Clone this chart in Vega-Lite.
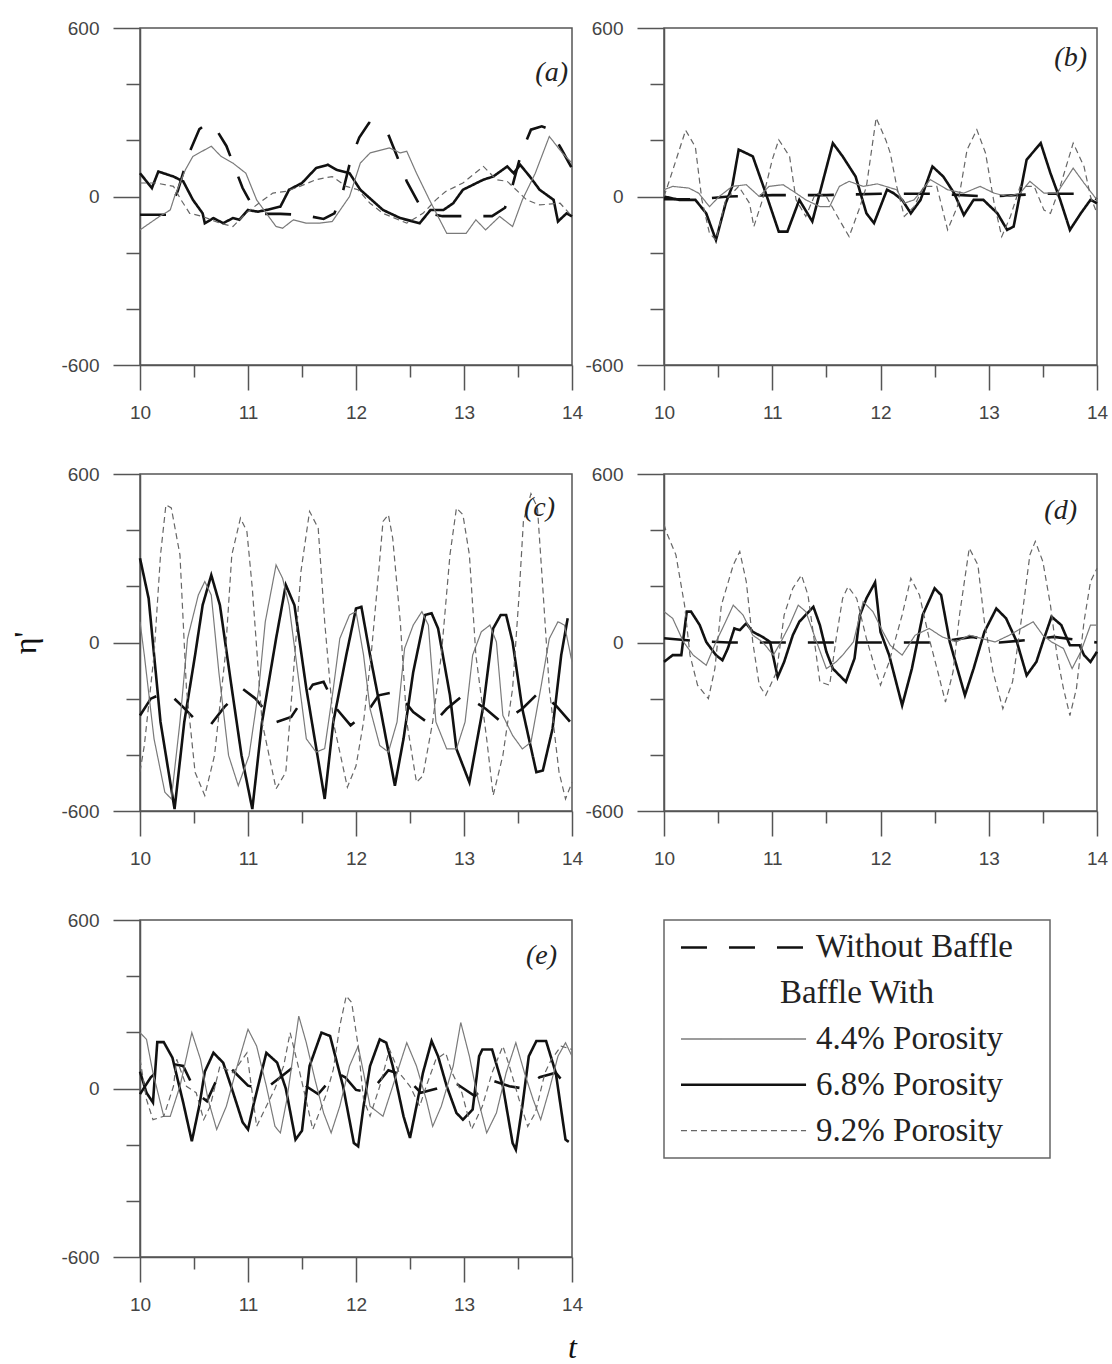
{
  "$schema": "https://vega.github.io/schema/vega-lite/v6.json",
  "padding": {"left": 9, "top": 18, "right": 5, "bottom": 5},
  "background": "white",
  "data": {"values": [
{"p":"a","s":"WB","t":10,"v":-65},{"p":"a","s":"WB","t":10.25,"v":-65},{"p":"a","s":"WB","t":10.35,"v":20},{"p":"a","s":"WB","t":10.45,"v":150},{"p":"a","s":"WB","t":10.55,"v":240},{"p":"a","s":"WB","t":10.63,"v":262},{"p":"a","s":"WB","t":10.72,"v":230},{"p":"a","s":"WB","t":10.8,"v":180},{"p":"a","s":"WB","t":10.88,"v":100},{"p":"a","s":"WB","t":10.95,"v":30},{"p":"a","s":"WB","t":11.05,"v":-40},{"p":"a","s":"WB","t":11.15,"v":-62},{"p":"a","s":"WB","t":11.3,"v":-62},{"p":"a","s":"WB","t":11.5,"v":-65},{"p":"a","s":"WB","t":11.7,"v":-80},{"p":"a","s":"WB","t":11.8,"v":-60},{"p":"a","s":"WB","t":11.88,"v":20},{"p":"a","s":"WB","t":11.95,"v":130},{"p":"a","s":"WB","t":12.03,"v":210},{"p":"a","s":"WB","t":12.12,"v":262},{"p":"a","s":"WB","t":12.22,"v":250},{"p":"a","s":"WB","t":12.3,"v":220},{"p":"a","s":"WB","t":12.38,"v":143},{"p":"a","s":"WB","t":12.47,"v":54},{"p":"a","s":"WB","t":12.58,"v":-24},{"p":"a","s":"WB","t":12.68,"v":-60},{"p":"a","s":"WB","t":12.8,"v":-70},{"p":"a","s":"WB","t":13,"v":-70},{"p":"a","s":"WB","t":13.26,"v":-70},{"p":"a","s":"WB","t":13.38,"v":-40},{"p":"a","s":"WB","t":13.45,"v":40},{"p":"a","s":"WB","t":13.53,"v":155},{"p":"a","s":"WB","t":13.62,"v":238},{"p":"a","s":"WB","t":13.72,"v":250},{"p":"a","s":"WB","t":13.8,"v":238},{"p":"a","s":"WB","t":13.9,"v":170},{"p":"a","s":"WB","t":14,"v":100},
{"p":"a","s":"6.8","t":10,"v":83},{"p":"a","s":"6.8","t":10.11,"v":30},{"p":"a","s":"6.8","t":10.17,"v":89},{"p":"a","s":"6.8","t":10.31,"v":71},{"p":"a","s":"6.8","t":10.4,"v":54},{"p":"a","s":"6.8","t":10.49,"v":-12},{"p":"a","s":"6.8","t":10.58,"v":-60},{"p":"a","s":"6.8","t":10.6,"v":-95},{"p":"a","s":"6.8","t":10.68,"v":-77},{"p":"a","s":"6.8","t":10.77,"v":-95},{"p":"a","s":"6.8","t":10.86,"v":-77},{"p":"a","s":"6.8","t":10.92,"v":-83},{"p":"a","s":"6.8","t":11,"v":-48},{"p":"a","s":"6.8","t":11.09,"v":-54},{"p":"a","s":"6.8","t":11.17,"v":-48},{"p":"a","s":"6.8","t":11.3,"v":-36},{"p":"a","s":"6.8","t":11.38,"v":24},{"p":"a","s":"6.8","t":11.5,"v":48},{"p":"a","s":"6.8","t":11.63,"v":101},{"p":"a","s":"6.8","t":11.74,"v":113},{"p":"a","s":"6.8","t":11.82,"v":95},{"p":"a","s":"6.8","t":11.94,"v":83},{"p":"a","s":"6.8","t":12.04,"v":24},{"p":"a","s":"6.8","t":12.25,"v":-48},{"p":"a","s":"6.8","t":12.41,"v":-77},{"p":"a","s":"6.8","t":12.59,"v":-95},{"p":"a","s":"6.8","t":12.69,"v":-48},{"p":"a","s":"6.8","t":12.81,"v":-48},{"p":"a","s":"6.8","t":12.9,"v":-24},{"p":"a","s":"6.8","t":12.99,"v":24},{"p":"a","s":"6.8","t":13.18,"v":60},{"p":"a","s":"6.8","t":13.27,"v":71},{"p":"a","s":"6.8","t":13.4,"v":107},{"p":"a","s":"6.8","t":13.46,"v":83},{"p":"a","s":"6.8","t":13.52,"v":113},{"p":"a","s":"6.8","t":13.61,"v":71},{"p":"a","s":"6.8","t":13.7,"v":24},{"p":"a","s":"6.8","t":13.83,"v":-12},{"p":"a","s":"6.8","t":13.87,"v":-89},{"p":"a","s":"6.8","t":13.95,"v":-60},{"p":"a","s":"6.8","t":14,"v":-71},
{"p":"a","s":"4.4","t":10,"v":-119},{"p":"a","s":"4.4","t":10.18,"v":-71},{"p":"a","s":"4.4","t":10.28,"v":-48},{"p":"a","s":"4.4","t":10.32,"v":0},{"p":"a","s":"4.4","t":10.42,"v":95},{"p":"a","s":"4.4","t":10.49,"v":143},{"p":"a","s":"4.4","t":10.66,"v":179},{"p":"a","s":"4.4","t":10.75,"v":143},{"p":"a","s":"4.4","t":10.86,"v":119},{"p":"a","s":"4.4","t":10.98,"v":83},{"p":"a","s":"4.4","t":11.08,"v":-12},{"p":"a","s":"4.4","t":11.17,"v":-60},{"p":"a","s":"4.4","t":11.26,"v":-107},{"p":"a","s":"4.4","t":11.32,"v":-113},{"p":"a","s":"4.4","t":11.42,"v":-83},{"p":"a","s":"4.4","t":11.54,"v":-95},{"p":"a","s":"4.4","t":11.66,"v":-95},{"p":"a","s":"4.4","t":11.78,"v":-89},{"p":"a","s":"4.4","t":11.94,"v":0},{"p":"a","s":"4.4","t":12.04,"v":119},{"p":"a","s":"4.4","t":12.13,"v":155},{"p":"a","s":"4.4","t":12.31,"v":173},{"p":"a","s":"4.4","t":12.41,"v":155},{"p":"a","s":"4.4","t":12.47,"v":161},{"p":"a","s":"4.4","t":12.56,"v":83},{"p":"a","s":"4.4","t":12.68,"v":-12},{"p":"a","s":"4.4","t":12.84,"v":-131},{"p":"a","s":"4.4","t":13.02,"v":-131},{"p":"a","s":"4.4","t":13.11,"v":-83},{"p":"a","s":"4.4","t":13.2,"v":-119},{"p":"a","s":"4.4","t":13.33,"v":-71},{"p":"a","s":"4.4","t":13.45,"v":-107},{"p":"a","s":"4.4","t":13.54,"v":-12},{"p":"a","s":"4.4","t":13.66,"v":83},{"p":"a","s":"4.4","t":13.79,"v":214},{"p":"a","s":"4.4","t":13.91,"v":155},{"p":"a","s":"4.4","t":14,"v":119},
{"p":"a","s":"9.2","t":10,"v":48},{"p":"a","s":"9.2","t":10.15,"v":48},{"p":"a","s":"9.2","t":10.31,"v":36},{"p":"a","s":"9.2","t":10.38,"v":-12},{"p":"a","s":"9.2","t":10.46,"v":-60},{"p":"a","s":"9.2","t":10.58,"v":-71},{"p":"a","s":"9.2","t":10.74,"v":-95},{"p":"a","s":"9.2","t":10.86,"v":-107},{"p":"a","s":"9.2","t":10.98,"v":-60},{"p":"a","s":"9.2","t":11.1,"v":-24},{"p":"a","s":"9.2","t":11.23,"v":12},{"p":"a","s":"9.2","t":11.35,"v":18},{"p":"a","s":"9.2","t":11.48,"v":36},{"p":"a","s":"9.2","t":11.63,"v":60},{"p":"a","s":"9.2","t":11.78,"v":71},{"p":"a","s":"9.2","t":11.91,"v":36},{"p":"a","s":"9.2","t":12.02,"v":24},{"p":"a","s":"9.2","t":12.13,"v":-24},{"p":"a","s":"9.2","t":12.25,"v":-60},{"p":"a","s":"9.2","t":12.47,"v":-95},{"p":"a","s":"9.2","t":12.62,"v":-60},{"p":"a","s":"9.2","t":12.74,"v":-12},{"p":"a","s":"9.2","t":12.83,"v":18},{"p":"a","s":"9.2","t":12.99,"v":48},{"p":"a","s":"9.2","t":13.18,"v":107},{"p":"a","s":"9.2","t":13.3,"v":60},{"p":"a","s":"9.2","t":13.4,"v":54},{"p":"a","s":"9.2","t":13.58,"v":-12},{"p":"a","s":"9.2","t":13.7,"v":-30},{"p":"a","s":"9.2","t":13.89,"v":-24},{"p":"a","s":"9.2","t":14,"v":-71},
{"p":"b","s":"WB","t":10,"v":-10},{"p":"b","s":"WB","t":10.3,"v":-10},{"p":"b","s":"WB","t":10.6,"v":0},{"p":"b","s":"WB","t":11,"v":5},{"p":"b","s":"WB","t":11.5,"v":5},{"p":"b","s":"WB","t":12,"v":10},{"p":"b","s":"WB","t":12.5,"v":10},{"p":"b","s":"WB","t":13,"v":0},{"p":"b","s":"WB","t":13.5,"v":10},{"p":"b","s":"WB","t":13.8,"v":10},{"p":"b","s":"WB","t":14,"v":-10},
{"p":"b","s":"6.8","t":10,"v":0},{"p":"b","s":"6.8","t":10.14,"v":-12},{"p":"b","s":"6.8","t":10.29,"v":-12},{"p":"b","s":"6.8","t":10.39,"v":-60},{"p":"b","s":"6.8","t":10.48,"v":-155},{"p":"b","s":"6.8","t":10.57,"v":-24},{"p":"b","s":"6.8","t":10.63,"v":36},{"p":"b","s":"6.8","t":10.69,"v":167},{"p":"b","s":"6.8","t":10.82,"v":143},{"p":"b","s":"6.8","t":10.94,"v":12},{"p":"b","s":"6.8","t":11.06,"v":-125},{"p":"b","s":"6.8","t":11.14,"v":-125},{"p":"b","s":"6.8","t":11.25,"v":-12},{"p":"b","s":"6.8","t":11.37,"v":-89},{"p":"b","s":"6.8","t":11.56,"v":190},{"p":"b","s":"6.8","t":11.65,"v":143},{"p":"b","s":"6.8","t":11.77,"v":71},{"p":"b","s":"6.8","t":11.87,"v":-60},{"p":"b","s":"6.8","t":11.94,"v":-95},{"p":"b","s":"6.8","t":12.06,"v":24},{"p":"b","s":"6.8","t":12.12,"v":12},{"p":"b","s":"6.8","t":12.2,"v":-12},{"p":"b","s":"6.8","t":12.28,"v":-60},{"p":"b","s":"6.8","t":12.37,"v":-12},{"p":"b","s":"6.8","t":12.48,"v":107},{"p":"b","s":"6.8","t":12.58,"v":71},{"p":"b","s":"6.8","t":12.68,"v":12},{"p":"b","s":"6.8","t":12.77,"v":-66},{"p":"b","s":"6.8","t":12.86,"v":-12},{"p":"b","s":"6.8","t":12.95,"v":-12},{"p":"b","s":"6.8","t":13.08,"v":-60},{"p":"b","s":"6.8","t":13.17,"v":-119},{"p":"b","s":"6.8","t":13.23,"v":-107},{"p":"b","s":"6.8","t":13.35,"v":131},{"p":"b","s":"6.8","t":13.48,"v":190},{"p":"b","s":"6.8","t":13.57,"v":83},{"p":"b","s":"6.8","t":13.66,"v":-12},{"p":"b","s":"6.8","t":13.75,"v":-119},{"p":"b","s":"6.8","t":13.85,"v":-60},{"p":"b","s":"6.8","t":13.94,"v":-12},{"p":"b","s":"6.8","t":14,"v":-24},
{"p":"b","s":"4.4","t":10,"v":24},{"p":"b","s":"4.4","t":10.08,"v":36},{"p":"b","s":"4.4","t":10.23,"v":30},{"p":"b","s":"4.4","t":10.32,"v":12},{"p":"b","s":"4.4","t":10.42,"v":-36},{"p":"b","s":"4.4","t":10.51,"v":0},{"p":"b","s":"4.4","t":10.63,"v":36},{"p":"b","s":"4.4","t":10.76,"v":42},{"p":"b","s":"4.4","t":10.88,"v":0},{"p":"b","s":"4.4","t":10.97,"v":36},{"p":"b","s":"4.4","t":11.1,"v":42},{"p":"b","s":"4.4","t":11.22,"v":12},{"p":"b","s":"4.4","t":11.31,"v":-12},{"p":"b","s":"4.4","t":11.44,"v":-36},{"p":"b","s":"4.4","t":11.53,"v":-36},{"p":"b","s":"4.4","t":11.62,"v":36},{"p":"b","s":"4.4","t":11.71,"v":54},{"p":"b","s":"4.4","t":11.84,"v":36},{"p":"b","s":"4.4","t":11.97,"v":45},{"p":"b","s":"4.4","t":12.15,"v":24},{"p":"b","s":"4.4","t":12.22,"v":-24},{"p":"b","s":"4.4","t":12.31,"v":-12},{"p":"b","s":"4.4","t":12.46,"v":60},{"p":"b","s":"4.4","t":12.62,"v":24},{"p":"b","s":"4.4","t":12.77,"v":12},{"p":"b","s":"4.4","t":12.92,"v":36},{"p":"b","s":"4.4","t":13.05,"v":12},{"p":"b","s":"4.4","t":13.17,"v":0},{"p":"b","s":"4.4","t":13.29,"v":12},{"p":"b","s":"4.4","t":13.38,"v":54},{"p":"b","s":"4.4","t":13.51,"v":12},{"p":"b","s":"4.4","t":13.63,"v":12},{"p":"b","s":"4.4","t":13.78,"v":101},{"p":"b","s":"4.4","t":13.88,"v":48},{"p":"b","s":"4.4","t":14,"v":-12},
{"p":"b","s":"9.2","t":10,"v":0},{"p":"b","s":"9.2","t":10.05,"v":57},{"p":"b","s":"9.2","t":10.2,"v":236},{"p":"b","s":"9.2","t":10.29,"v":176},{"p":"b","s":"9.2","t":10.35,"v":-12},{"p":"b","s":"9.2","t":10.42,"v":-131},{"p":"b","s":"9.2","t":10.48,"v":-155},{"p":"b","s":"9.2","t":10.57,"v":-12},{"p":"b","s":"9.2","t":10.69,"v":36},{"p":"b","s":"9.2","t":10.79,"v":-24},{"p":"b","s":"9.2","t":10.83,"v":-107},{"p":"b","s":"9.2","t":10.91,"v":-12},{"p":"b","s":"9.2","t":11,"v":131},{"p":"b","s":"9.2","t":11.06,"v":202},{"p":"b","s":"9.2","t":11.16,"v":143},{"p":"b","s":"9.2","t":11.22,"v":-12},{"p":"b","s":"9.2","t":11.31,"v":-71},{"p":"b","s":"9.2","t":11.4,"v":12},{"p":"b","s":"9.2","t":11.5,"v":0},{"p":"b","s":"9.2","t":11.62,"v":-83},{"p":"b","s":"9.2","t":11.71,"v":-143},{"p":"b","s":"9.2","t":11.8,"v":-48},{"p":"b","s":"9.2","t":11.87,"v":36},{"p":"b","s":"9.2","t":11.96,"v":280},{"p":"b","s":"9.2","t":12.05,"v":200},{"p":"b","s":"9.2","t":12.09,"v":155},{"p":"b","s":"9.2","t":12.15,"v":36},{"p":"b","s":"9.2","t":12.22,"v":-71},{"p":"b","s":"9.2","t":12.31,"v":-36},{"p":"b","s":"9.2","t":12.4,"v":36},{"p":"b","s":"9.2","t":12.52,"v":36},{"p":"b","s":"9.2","t":12.62,"v":-119},{"p":"b","s":"9.2","t":12.71,"v":-36},{"p":"b","s":"9.2","t":12.8,"v":167},{"p":"b","s":"9.2","t":12.89,"v":238},{"p":"b","s":"9.2","t":12.97,"v":155},{"p":"b","s":"9.2","t":13.05,"v":-24},{"p":"b","s":"9.2","t":13.12,"v":-143},{"p":"b","s":"9.2","t":13.2,"v":-71},{"p":"b","s":"9.2","t":13.29,"v":36},{"p":"b","s":"9.2","t":13.42,"v":36},{"p":"b","s":"9.2","t":13.51,"v":-48},{"p":"b","s":"9.2","t":13.57,"v":-60},{"p":"b","s":"9.2","t":13.66,"v":36},{"p":"b","s":"9.2","t":13.78,"v":190},{"p":"b","s":"9.2","t":13.88,"v":107},{"p":"b","s":"9.2","t":13.94,"v":0},{"p":"b","s":"9.2","t":14,"v":-60},
{"p":"c","s":"WB","t":10,"v":-260},{"p":"c","s":"WB","t":10.1,"v":-200},{"p":"c","s":"WB","t":10.25,"v":-175},{"p":"c","s":"WB","t":10.4,"v":-230},{"p":"c","s":"WB","t":10.55,"v":-290},{"p":"c","s":"WB","t":10.65,"v":-295},{"p":"c","s":"WB","t":10.78,"v":-230},{"p":"c","s":"WB","t":10.95,"v":-165},{"p":"c","s":"WB","t":11.07,"v":-200},{"p":"c","s":"WB","t":11.25,"v":-285},{"p":"c","s":"WB","t":11.4,"v":-265},{"p":"c","s":"WB","t":11.6,"v":-150},{"p":"c","s":"WB","t":11.7,"v":-140},{"p":"c","s":"WB","t":11.82,"v":-236},{"p":"c","s":"WB","t":11.95,"v":-295},{"p":"c","s":"WB","t":12.1,"v":-250},{"p":"c","s":"WB","t":12.21,"v":-188},{"p":"c","s":"WB","t":12.38,"v":-175},{"p":"c","s":"WB","t":12.53,"v":-248},{"p":"c","s":"WB","t":12.7,"v":-295},{"p":"c","s":"WB","t":12.84,"v":-236},{"p":"c","s":"WB","t":13,"v":-185},{"p":"c","s":"WB","t":13.2,"v":-236},{"p":"c","s":"WB","t":13.35,"v":-285},{"p":"c","s":"WB","t":13.54,"v":-236},{"p":"c","s":"WB","t":13.7,"v":-175},{"p":"c","s":"WB","t":13.85,"v":-224},{"p":"c","s":"WB","t":14,"v":-290},
{"p":"c","s":"6.8","t":10,"v":300},{"p":"c","s":"6.8","t":10.08,"v":157},{"p":"c","s":"6.8","t":10.19,"v":-283},{"p":"c","s":"6.8","t":10.32,"v":-593},{"p":"c","s":"6.8","t":10.41,"v":-283},{"p":"c","s":"6.8","t":10.51,"v":-45},{"p":"c","s":"6.8","t":10.58,"v":133},{"p":"c","s":"6.8","t":10.66,"v":240},{"p":"c","s":"6.8","t":10.74,"v":133},{"p":"c","s":"6.8","t":10.85,"v":-164},{"p":"c","s":"6.8","t":10.94,"v":-402},{"p":"c","s":"6.8","t":11.04,"v":-593},{"p":"c","s":"6.8","t":11.13,"v":-283},{"p":"c","s":"6.8","t":11.26,"v":14},{"p":"c","s":"6.8","t":11.35,"v":205},{"p":"c","s":"6.8","t":11.43,"v":133},{"p":"c","s":"6.8","t":11.54,"v":-164},{"p":"c","s":"6.8","t":11.71,"v":-557},{"p":"c","s":"6.8","t":11.79,"v":-283},{"p":"c","s":"6.8","t":11.91,"v":-45},{"p":"c","s":"6.8","t":12,"v":121},{"p":"c","s":"6.8","t":12.05,"v":127},{"p":"c","s":"6.8","t":12.13,"v":-45},{"p":"c","s":"6.8","t":12.22,"v":-224},{"p":"c","s":"6.8","t":12.36,"v":-510},{"p":"c","s":"6.8","t":12.44,"v":-343},{"p":"c","s":"6.8","t":12.53,"v":-105},{"p":"c","s":"6.8","t":12.64,"v":98},{"p":"c","s":"6.8","t":12.7,"v":104},{"p":"c","s":"6.8","t":12.76,"v":50},{"p":"c","s":"6.8","t":12.87,"v":-188},{"p":"c","s":"6.8","t":12.93,"v":-379},{"p":"c","s":"6.8","t":13.05,"v":-498},{"p":"c","s":"6.8","t":13.18,"v":-224},{"p":"c","s":"6.8","t":13.27,"v":50},{"p":"c","s":"6.8","t":13.34,"v":98},{"p":"c","s":"6.8","t":13.39,"v":98},{"p":"c","s":"6.8","t":13.45,"v":2},{"p":"c","s":"6.8","t":13.54,"v":-236},{"p":"c","s":"6.8","t":13.67,"v":-462},{"p":"c","s":"6.8","t":13.73,"v":-456},{"p":"c","s":"6.8","t":13.82,"v":-307},{"p":"c","s":"6.8","t":13.9,"v":-45},{"p":"c","s":"6.8","t":13.96,"v":86},
{"p":"c","s":"4.4","t":10,"v":74},{"p":"c","s":"4.4","t":10.04,"v":-45},{"p":"c","s":"4.4","t":10.13,"v":-343},{"p":"c","s":"4.4","t":10.23,"v":-533},{"p":"c","s":"4.4","t":10.29,"v":-557},{"p":"c","s":"4.4","t":10.37,"v":-283},{"p":"c","s":"4.4","t":10.44,"v":14},{"p":"c","s":"4.4","t":10.54,"v":169},{"p":"c","s":"4.4","t":10.6,"v":217},{"p":"c","s":"4.4","t":10.66,"v":169},{"p":"c","s":"4.4","t":10.73,"v":-105},{"p":"c","s":"4.4","t":10.82,"v":-402},{"p":"c","s":"4.4","t":10.91,"v":-510},{"p":"c","s":"4.4","t":11.01,"v":-402},{"p":"c","s":"4.4","t":11.1,"v":-164},{"p":"c","s":"4.4","t":11.16,"v":74},{"p":"c","s":"4.4","t":11.26,"v":276},{"p":"c","s":"4.4","t":11.32,"v":229},{"p":"c","s":"4.4","t":11.38,"v":133},{"p":"c","s":"4.4","t":11.44,"v":-45},{"p":"c","s":"4.4","t":11.54,"v":-343},{"p":"c","s":"4.4","t":11.63,"v":-390},{"p":"c","s":"4.4","t":11.71,"v":-378},{"p":"c","s":"4.4","t":11.79,"v":-164},{"p":"c","s":"4.4","t":11.85,"v":14},{"p":"c","s":"4.4","t":11.94,"v":98},{"p":"c","s":"4.4","t":12,"v":110},{"p":"c","s":"4.4","t":12.07,"v":-45},{"p":"c","s":"4.4","t":12.13,"v":-236},{"p":"c","s":"4.4","t":12.22,"v":-367},{"p":"c","s":"4.4","t":12.3,"v":-390},{"p":"c","s":"4.4","t":12.38,"v":-283},{"p":"c","s":"4.4","t":12.45,"v":-21},{"p":"c","s":"4.4","t":12.53,"v":62},{"p":"c","s":"4.4","t":12.61,"v":110},{"p":"c","s":"4.4","t":12.67,"v":62},{"p":"c","s":"4.4","t":12.74,"v":-283},{"p":"c","s":"4.4","t":12.84,"v":-379},{"p":"c","s":"4.4","t":12.93,"v":-379},{"p":"c","s":"4.4","t":13.01,"v":-283},{"p":"c","s":"4.4","t":13.08,"v":-45},{"p":"c","s":"4.4","t":13.16,"v":38},{"p":"c","s":"4.4","t":13.24,"v":62},{"p":"c","s":"4.4","t":13.3,"v":2},{"p":"c","s":"4.4","t":13.36,"v":-260},{"p":"c","s":"4.4","t":13.45,"v":-331},{"p":"c","s":"4.4","t":13.54,"v":-379},{"p":"c","s":"4.4","t":13.62,"v":-355},{"p":"c","s":"4.4","t":13.71,"v":-164},{"p":"c","s":"4.4","t":13.79,"v":14},{"p":"c","s":"4.4","t":13.87,"v":74},{"p":"c","s":"4.4","t":13.93,"v":62},{"p":"c","s":"4.4","t":14,"v":-69},
{"p":"c","s":"9.2","t":10,"v":-460},{"p":"c","s":"9.2","t":10.04,"v":-367},{"p":"c","s":"9.2","t":10.13,"v":-45},{"p":"c","s":"9.2","t":10.19,"v":312},{"p":"c","s":"9.2","t":10.24,"v":490},{"p":"c","s":"9.2","t":10.29,"v":479},{"p":"c","s":"9.2","t":10.37,"v":312},{"p":"c","s":"9.2","t":10.43,"v":-164},{"p":"c","s":"9.2","t":10.51,"v":-462},{"p":"c","s":"9.2","t":10.6,"v":-545},{"p":"c","s":"9.2","t":10.69,"v":-402},{"p":"c","s":"9.2","t":10.79,"v":-45},{"p":"c","s":"9.2","t":10.85,"v":312},{"p":"c","s":"9.2","t":10.93,"v":443},{"p":"c","s":"9.2","t":10.99,"v":395},{"p":"c","s":"9.2","t":11.04,"v":193},{"p":"c","s":"9.2","t":11.13,"v":-283},{"p":"c","s":"9.2","t":11.26,"v":-521},{"p":"c","s":"9.2","t":11.35,"v":-462},{"p":"c","s":"9.2","t":11.41,"v":-164},{"p":"c","s":"9.2","t":11.49,"v":252},{"p":"c","s":"9.2","t":11.57,"v":467},{"p":"c","s":"9.2","t":11.65,"v":407},{"p":"c","s":"9.2","t":11.71,"v":74},{"p":"c","s":"9.2","t":11.79,"v":-283},{"p":"c","s":"9.2","t":11.92,"v":-515},{"p":"c","s":"9.2","t":12,"v":-440},{"p":"c","s":"9.2","t":12.07,"v":-283},{"p":"c","s":"9.2","t":12.14,"v":-45},{"p":"c","s":"9.2","t":12.21,"v":252},{"p":"c","s":"9.2","t":12.25,"v":431},{"p":"c","s":"9.2","t":12.3,"v":455},{"p":"c","s":"9.2","t":12.34,"v":371},{"p":"c","s":"9.2","t":12.41,"v":74},{"p":"c","s":"9.2","t":12.47,"v":-283},{"p":"c","s":"9.2","t":12.56,"v":-498},{"p":"c","s":"9.2","t":12.62,"v":-474},{"p":"c","s":"9.2","t":12.71,"v":-283},{"p":"c","s":"9.2","t":12.79,"v":-45},{"p":"c","s":"9.2","t":12.87,"v":312},{"p":"c","s":"9.2","t":12.93,"v":479},{"p":"c","s":"9.2","t":12.99,"v":455},{"p":"c","s":"9.2","t":13.05,"v":312},{"p":"c","s":"9.2","t":13.11,"v":-45},{"p":"c","s":"9.2","t":13.21,"v":-343},{"p":"c","s":"9.2","t":13.27,"v":-545},{"p":"c","s":"9.2","t":13.36,"v":-402},{"p":"c","s":"9.2","t":13.45,"v":-164},{"p":"c","s":"9.2","t":13.51,"v":169},{"p":"c","s":"9.2","t":13.55,"v":431},{"p":"c","s":"9.2","t":13.62,"v":530},{"p":"c","s":"9.2","t":13.68,"v":480},{"p":"c","s":"9.2","t":13.73,"v":193},{"p":"c","s":"9.2","t":13.79,"v":-164},{"p":"c","s":"9.2","t":13.88,"v":-462},{"p":"c","s":"9.2","t":13.94,"v":-557},{"p":"c","s":"9.2","t":14,"v":-498},
{"p":"d","s":"WB","t":10,"v":15},{"p":"d","s":"WB","t":10.3,"v":5},{"p":"d","s":"WB","t":10.6,"v":0},{"p":"d","s":"WB","t":11,"v":0},{"p":"d","s":"WB","t":11.5,"v":0},{"p":"d","s":"WB","t":12,"v":0},{"p":"d","s":"WB","t":12.5,"v":0},{"p":"d","s":"WB","t":12.85,"v":20},{"p":"d","s":"WB","t":13.1,"v":0},{"p":"d","s":"WB","t":13.4,"v":10},{"p":"d","s":"WB","t":13.6,"v":20},{"p":"d","s":"WB","t":14,"v":0},
{"p":"d","s":"6.8","t":10,"v":-69},{"p":"d","s":"6.8","t":10.08,"v":-45},{"p":"d","s":"6.8","t":10.16,"v":-45},{"p":"d","s":"6.8","t":10.21,"v":110},{"p":"d","s":"6.8","t":10.25,"v":110},{"p":"d","s":"6.8","t":10.33,"v":62},{"p":"d","s":"6.8","t":10.39,"v":2},{"p":"d","s":"6.8","t":10.48,"v":-45},{"p":"d","s":"6.8","t":10.54,"v":-63},{"p":"d","s":"6.8","t":10.59,"v":-21},{"p":"d","s":"6.8","t":10.65,"v":50},{"p":"d","s":"6.8","t":10.7,"v":44},{"p":"d","s":"6.8","t":10.76,"v":68},{"p":"d","s":"6.8","t":10.82,"v":38},{"p":"d","s":"6.8","t":10.91,"v":20},{"p":"d","s":"6.8","t":10.98,"v":2},{"p":"d","s":"6.8","t":11.05,"v":-123},{"p":"d","s":"6.8","t":11.11,"v":-69},{"p":"d","s":"6.8","t":11.19,"v":26},{"p":"d","s":"6.8","t":11.25,"v":74},{"p":"d","s":"6.8","t":11.38,"v":127},{"p":"d","s":"6.8","t":11.44,"v":62},{"p":"d","s":"6.8","t":11.5,"v":-33},{"p":"d","s":"6.8","t":11.56,"v":-93},{"p":"d","s":"6.8","t":11.68,"v":-140},{"p":"d","s":"6.8","t":11.76,"v":-57},{"p":"d","s":"6.8","t":11.81,"v":98},{"p":"d","s":"6.8","t":11.87,"v":157},{"p":"d","s":"6.8","t":11.95,"v":214},{"p":"d","s":"6.8","t":12,"v":38},{"p":"d","s":"6.8","t":12.08,"v":-45},{"p":"d","s":"6.8","t":12.2,"v":-224},{"p":"d","s":"6.8","t":12.29,"v":-93},{"p":"d","s":"6.8","t":12.39,"v":98},{"p":"d","s":"6.8","t":12.5,"v":193},{"p":"d","s":"6.8","t":12.56,"v":169},{"p":"d","s":"6.8","t":12.64,"v":2},{"p":"d","s":"6.8","t":12.78,"v":-188},{"p":"d","s":"6.8","t":12.86,"v":-93},{"p":"d","s":"6.8","t":12.96,"v":38},{"p":"d","s":"6.8","t":13.07,"v":121},{"p":"d","s":"6.8","t":13.16,"v":86},{"p":"d","s":"6.8","t":13.26,"v":2},{"p":"d","s":"6.8","t":13.35,"v":-117},{"p":"d","s":"6.8","t":13.44,"v":-69},{"p":"d","s":"6.8","t":13.5,"v":2},{"p":"d","s":"6.8","t":13.58,"v":92},{"p":"d","s":"6.8","t":13.67,"v":62},{"p":"d","s":"6.8","t":13.75,"v":-10},{"p":"d","s":"6.8","t":13.84,"v":-10},{"p":"d","s":"6.8","t":13.88,"v":-45},{"p":"d","s":"6.8","t":13.94,"v":-69},{"p":"d","s":"6.8","t":14,"v":-33},
{"p":"d","s":"4.4","t":10,"v":110},{"p":"d","s":"4.4","t":10.08,"v":86},{"p":"d","s":"4.4","t":10.18,"v":2},{"p":"d","s":"4.4","t":10.27,"v":-45},{"p":"d","s":"4.4","t":10.39,"v":-81},{"p":"d","s":"4.4","t":10.48,"v":2},{"p":"d","s":"4.4","t":10.54,"v":50},{"p":"d","s":"4.4","t":10.64,"v":133},{"p":"d","s":"4.4","t":10.73,"v":98},{"p":"d","s":"4.4","t":10.82,"v":26},{"p":"d","s":"4.4","t":10.91,"v":2},{"p":"d","s":"4.4","t":11.01,"v":-45},{"p":"d","s":"4.4","t":11.08,"v":2},{"p":"d","s":"4.4","t":11.16,"v":62},{"p":"d","s":"4.4","t":11.24,"v":133},{"p":"d","s":"4.4","t":11.31,"v":110},{"p":"d","s":"4.4","t":11.41,"v":2},{"p":"d","s":"4.4","t":11.5,"v":-93},{"p":"d","s":"4.4","t":11.59,"v":-69},{"p":"d","s":"4.4","t":11.65,"v":-45},{"p":"d","s":"4.4","t":11.75,"v":2},{"p":"d","s":"4.4","t":11.84,"v":145},{"p":"d","s":"4.4","t":11.93,"v":110},{"p":"d","s":"4.4","t":12.02,"v":40},{"p":"d","s":"4.4","t":12.09,"v":-10},{"p":"d","s":"4.4","t":12.2,"v":-45},{"p":"d","s":"4.4","t":12.32,"v":26},{"p":"d","s":"4.4","t":12.45,"v":50},{"p":"d","s":"4.4","t":12.57,"v":20},{"p":"d","s":"4.4","t":12.7,"v":2},{"p":"d","s":"4.4","t":12.82,"v":26},{"p":"d","s":"4.4","t":12.94,"v":14},{"p":"d","s":"4.4","t":13.06,"v":2},{"p":"d","s":"4.4","t":13.19,"v":26},{"p":"d","s":"4.4","t":13.3,"v":50},{"p":"d","s":"4.4","t":13.41,"v":74},{"p":"d","s":"4.4","t":13.5,"v":26},{"p":"d","s":"4.4","t":13.58,"v":2},{"p":"d","s":"4.4","t":13.69,"v":-21},{"p":"d","s":"4.4","t":13.77,"v":-93},{"p":"d","s":"4.4","t":13.85,"v":-33},{"p":"d","s":"4.4","t":13.94,"v":62},{"p":"d","s":"4.4","t":14,"v":62},
{"p":"d","s":"9.2","t":10,"v":420},{"p":"d","s":"9.2","t":10.02,"v":395},{"p":"d","s":"9.2","t":10.11,"v":312},{"p":"d","s":"9.2","t":10.19,"v":133},{"p":"d","s":"9.2","t":10.24,"v":-45},{"p":"d","s":"9.2","t":10.31,"v":-152},{"p":"d","s":"9.2","t":10.41,"v":-200},{"p":"d","s":"9.2","t":10.47,"v":-93},{"p":"d","s":"9.2","t":10.53,"v":133},{"p":"d","s":"9.2","t":10.64,"v":276},{"p":"d","s":"9.2","t":10.7,"v":324},{"p":"d","s":"9.2","t":10.76,"v":217},{"p":"d","s":"9.2","t":10.82,"v":2},{"p":"d","s":"9.2","t":10.88,"v":-152},{"p":"d","s":"9.2","t":10.94,"v":-188},{"p":"d","s":"9.2","t":11.04,"v":-105},{"p":"d","s":"9.2","t":11.11,"v":98},{"p":"d","s":"9.2","t":11.19,"v":193},{"p":"d","s":"9.2","t":11.27,"v":240},{"p":"d","s":"9.2","t":11.33,"v":169},{"p":"d","s":"9.2","t":11.39,"v":2},{"p":"d","s":"9.2","t":11.44,"v":-140},{"p":"d","s":"9.2","t":11.53,"v":-152},{"p":"d","s":"9.2","t":11.59,"v":14},{"p":"d","s":"9.2","t":11.65,"v":157},{"p":"d","s":"9.2","t":11.7,"v":199},{"p":"d","s":"9.2","t":11.78,"v":157},{"p":"d","s":"9.2","t":11.87,"v":14},{"p":"d","s":"9.2","t":11.96,"v":-105},{"p":"d","s":"9.2","t":12,"v":-152},{"p":"d","s":"9.2","t":12.08,"v":-69},{"p":"d","s":"9.2","t":12.2,"v":98},{"p":"d","s":"9.2","t":12.28,"v":229},{"p":"d","s":"9.2","t":12.36,"v":169},{"p":"d","s":"9.2","t":12.45,"v":14},{"p":"d","s":"9.2","t":12.53,"v":-105},{"p":"d","s":"9.2","t":12.6,"v":-212},{"p":"d","s":"9.2","t":12.67,"v":-105},{"p":"d","s":"9.2","t":12.73,"v":98},{"p":"d","s":"9.2","t":12.82,"v":336},{"p":"d","s":"9.2","t":12.9,"v":276},{"p":"d","s":"9.2","t":12.96,"v":74},{"p":"d","s":"9.2","t":13.04,"v":-105},{"p":"d","s":"9.2","t":13.13,"v":-236},{"p":"d","s":"9.2","t":13.22,"v":-140},{"p":"d","s":"9.2","t":13.32,"v":133},{"p":"d","s":"9.2","t":13.38,"v":312},{"p":"d","s":"9.2","t":13.43,"v":360},{"p":"d","s":"9.2","t":13.5,"v":288},{"p":"d","s":"9.2","t":13.57,"v":133},{"p":"d","s":"9.2","t":13.63,"v":-45},{"p":"d","s":"9.2","t":13.69,"v":-164},{"p":"d","s":"9.2","t":13.75,"v":-260},{"p":"d","s":"9.2","t":13.81,"v":-164},{"p":"d","s":"9.2","t":13.88,"v":74},{"p":"d","s":"9.2","t":13.94,"v":217},{"p":"d","s":"9.2","t":14,"v":264},
{"p":"e","s":"WB","t":10,"v":-20},{"p":"e","s":"WB","t":10.1,"v":40},{"p":"e","s":"WB","t":10.25,"v":90},{"p":"e","s":"WB","t":10.4,"v":80},{"p":"e","s":"WB","t":10.52,"v":-15},{"p":"e","s":"WB","t":10.62,"v":-45},{"p":"e","s":"WB","t":10.72,"v":40},{"p":"e","s":"WB","t":10.85,"v":68},{"p":"e","s":"WB","t":11,"v":10},{"p":"e","s":"WB","t":11.15,"v":-5},{"p":"e","s":"WB","t":11.3,"v":40},{"p":"e","s":"WB","t":11.4,"v":70},{"p":"e","s":"WB","t":11.55,"v":5},{"p":"e","s":"WB","t":11.65,"v":-20},{"p":"e","s":"WB","t":11.82,"v":56},{"p":"e","s":"WB","t":11.9,"v":40},{"p":"e","s":"WB","t":12,"v":-5},{"p":"e","s":"WB","t":12.13,"v":-15},{"p":"e","s":"WB","t":12.3,"v":65},{"p":"e","s":"WB","t":12.45,"v":45},{"p":"e","s":"WB","t":12.6,"v":-15},{"p":"e","s":"WB","t":12.75,"v":0},{"p":"e","s":"WB","t":12.9,"v":25},{"p":"e","s":"WB","t":13.1,"v":-27},{"p":"e","s":"WB","t":13.25,"v":30},{"p":"e","s":"WB","t":13.42,"v":8},{"p":"e","s":"WB","t":13.55,"v":0},{"p":"e","s":"WB","t":13.7,"v":40},{"p":"e","s":"WB","t":13.85,"v":56},{"p":"e","s":"WB","t":14,"v":-15},
{"p":"e","s":"6.8","t":10,"v":60},{"p":"e","s":"6.8","t":10.06,"v":-15},{"p":"e","s":"6.8","t":10.12,"v":-50},{"p":"e","s":"6.8","t":10.16,"v":165},{"p":"e","s":"6.8","t":10.22,"v":165},{"p":"e","s":"6.8","t":10.3,"v":110},{"p":"e","s":"6.8","t":10.4,"v":-50},{"p":"e","s":"6.8","t":10.48,"v":-188},{"p":"e","s":"6.8","t":10.55,"v":-60},{"p":"e","s":"6.8","t":10.6,"v":60},{"p":"e","s":"6.8","t":10.68,"v":127},{"p":"e","s":"6.8","t":10.77,"v":92},{"p":"e","s":"6.8","t":10.85,"v":0},{"p":"e","s":"6.8","t":10.95,"v":-120},{"p":"e","s":"6.8","t":11,"v":-146},{"p":"e","s":"6.8","t":11.05,"v":-60},{"p":"e","s":"6.8","t":11.12,"v":50},{"p":"e","s":"6.8","t":11.17,"v":127},{"p":"e","s":"6.8","t":11.27,"v":92},{"p":"e","s":"6.8","t":11.35,"v":0},{"p":"e","s":"6.8","t":11.44,"v":-182},{"p":"e","s":"6.8","t":11.5,"v":-150},{"p":"e","s":"6.8","t":11.57,"v":80},{"p":"e","s":"6.8","t":11.68,"v":199},{"p":"e","s":"6.8","t":11.76,"v":187},{"p":"e","s":"6.8","t":11.88,"v":8},{"p":"e","s":"6.8","t":11.98,"v":-194},{"p":"e","s":"6.8","t":12.02,"v":-206},{"p":"e","s":"6.8","t":12.07,"v":-63},{"p":"e","s":"6.8","t":12.13,"v":80},{"p":"e","s":"6.8","t":12.22,"v":175},{"p":"e","s":"6.8","t":12.28,"v":163},{"p":"e","s":"6.8","t":12.34,"v":80},{"p":"e","s":"6.8","t":12.44,"v":-99},{"p":"e","s":"6.8","t":12.5,"v":-176},{"p":"e","s":"6.8","t":12.56,"v":-63},{"p":"e","s":"6.8","t":12.62,"v":56},{"p":"e","s":"6.8","t":12.7,"v":169},{"p":"e","s":"6.8","t":12.76,"v":115},{"p":"e","s":"6.8","t":12.84,"v":8},{"p":"e","s":"6.8","t":12.93,"v":-87},{"p":"e","s":"6.8","t":12.99,"v":-111},{"p":"e","s":"6.8","t":13.08,"v":-75},{"p":"e","s":"6.8","t":13.14,"v":115},{"p":"e","s":"6.8","t":13.17,"v":139},{"p":"e","s":"6.8","t":13.26,"v":139},{"p":"e","s":"6.8","t":13.36,"v":8},{"p":"e","s":"6.8","t":13.45,"v":-194},{"p":"e","s":"6.8","t":13.48,"v":-218},{"p":"e","s":"6.8","t":13.54,"v":-63},{"p":"e","s":"6.8","t":13.6,"v":115},{"p":"e","s":"6.8","t":13.67,"v":169},{"p":"e","s":"6.8","t":13.76,"v":169},{"p":"e","s":"6.8","t":13.85,"v":56},{"p":"e","s":"6.8","t":13.94,"v":-182},{"p":"e","s":"6.8","t":13.97,"v":-190},
{"p":"e","s":"4.4","t":10,"v":199},{"p":"e","s":"4.4","t":10.06,"v":175},{"p":"e","s":"4.4","t":10.12,"v":56},{"p":"e","s":"4.4","t":10.22,"v":-99},{"p":"e","s":"4.4","t":10.28,"v":-99},{"p":"e","s":"4.4","t":10.37,"v":8},{"p":"e","s":"4.4","t":10.48,"v":199},{"p":"e","s":"4.4","t":10.56,"v":104},{"p":"e","s":"4.4","t":10.63,"v":-39},{"p":"e","s":"4.4","t":10.71,"v":-146},{"p":"e","s":"4.4","t":10.8,"v":-63},{"p":"e","s":"4.4","t":10.9,"v":80},{"p":"e","s":"4.4","t":11,"v":211},{"p":"e","s":"4.4","t":11.08,"v":151},{"p":"e","s":"4.4","t":11.17,"v":8},{"p":"e","s":"4.4","t":11.25,"v":-135},{"p":"e","s":"4.4","t":11.3,"v":-158},{"p":"e","s":"4.4","t":11.36,"v":-39},{"p":"e","s":"4.4","t":11.47,"v":258},{"p":"e","s":"4.4","t":11.54,"v":163},{"p":"e","s":"4.4","t":11.62,"v":32},{"p":"e","s":"4.4","t":11.7,"v":-87},{"p":"e","s":"4.4","t":11.77,"v":-158},{"p":"e","s":"4.4","t":11.85,"v":-63},{"p":"e","s":"4.4","t":11.94,"v":80},{"p":"e","s":"4.4","t":12.02,"v":151},{"p":"e","s":"4.4","t":12.07,"v":56},{"p":"e","s":"4.4","t":12.13,"v":-63},{"p":"e","s":"4.4","t":12.25,"v":-99},{"p":"e","s":"4.4","t":12.34,"v":8},{"p":"e","s":"4.4","t":12.47,"v":163},{"p":"e","s":"4.4","t":12.56,"v":80},{"p":"e","s":"4.4","t":12.65,"v":-39},{"p":"e","s":"4.4","t":12.71,"v":-135},{"p":"e","s":"4.4","t":12.79,"v":-63},{"p":"e","s":"4.4","t":12.9,"v":80},{"p":"e","s":"4.4","t":12.97,"v":235},{"p":"e","s":"4.4","t":13.05,"v":115},{"p":"e","s":"4.4","t":13.13,"v":-39},{"p":"e","s":"4.4","t":13.21,"v":-158},{"p":"e","s":"4.4","t":13.3,"v":-87},{"p":"e","s":"4.4","t":13.39,"v":56},{"p":"e","s":"4.4","t":13.48,"v":163},{"p":"e","s":"4.4","t":13.56,"v":56},{"p":"e","s":"4.4","t":13.64,"v":-39},{"p":"e","s":"4.4","t":13.71,"v":-111},{"p":"e","s":"4.4","t":13.79,"v":-4},{"p":"e","s":"4.4","t":13.87,"v":115},{"p":"e","s":"4.4","t":13.94,"v":163},{"p":"e","s":"4.4","t":14,"v":115},
{"p":"e","s":"9.2","t":10,"v":104},{"p":"e","s":"9.2","t":10.06,"v":-39},{"p":"e","s":"9.2","t":10.12,"v":-111},{"p":"e","s":"9.2","t":10.22,"v":-99},{"p":"e","s":"9.2","t":10.31,"v":8},{"p":"e","s":"9.2","t":10.34,"v":104},{"p":"e","s":"9.2","t":10.43,"v":8},{"p":"e","s":"9.2","t":10.52,"v":-15},{"p":"e","s":"9.2","t":10.59,"v":-111},{"p":"e","s":"9.2","t":10.65,"v":-63},{"p":"e","s":"9.2","t":10.74,"v":80},{"p":"e","s":"9.2","t":10.86,"v":56},{"p":"e","s":"9.2","t":10.99,"v":127},{"p":"e","s":"9.2","t":11.08,"v":-135},{"p":"e","s":"9.2","t":11.17,"v":-63},{"p":"e","s":"9.2","t":11.25,"v":0},{"p":"e","s":"9.2","t":11.33,"v":80},{"p":"e","s":"9.2","t":11.39,"v":199},{"p":"e","s":"9.2","t":11.48,"v":56},{"p":"e","s":"9.2","t":11.6,"v":-146},{"p":"e","s":"9.2","t":11.73,"v":-15},{"p":"e","s":"9.2","t":11.79,"v":68},{"p":"e","s":"9.2","t":11.85,"v":223},{"p":"e","s":"9.2","t":11.91,"v":330},{"p":"e","s":"9.2","t":11.96,"v":306},{"p":"e","s":"9.2","t":12.02,"v":151},{"p":"e","s":"9.2","t":12.07,"v":-39},{"p":"e","s":"9.2","t":12.13,"v":-99},{"p":"e","s":"9.2","t":12.22,"v":8},{"p":"e","s":"9.2","t":12.31,"v":139},{"p":"e","s":"9.2","t":12.4,"v":56},{"p":"e","s":"9.2","t":12.5,"v":8},{"p":"e","s":"9.2","t":12.59,"v":-63},{"p":"e","s":"9.2","t":12.65,"v":8},{"p":"e","s":"9.2","t":12.74,"v":104},{"p":"e","s":"9.2","t":12.83,"v":127},{"p":"e","s":"9.2","t":12.89,"v":56},{"p":"e","s":"9.2","t":12.98,"v":-15},{"p":"e","s":"9.2","t":13.07,"v":-146},{"p":"e","s":"9.2","t":13.17,"v":-63},{"p":"e","s":"9.2","t":13.26,"v":56},{"p":"e","s":"9.2","t":13.36,"v":151},{"p":"e","s":"9.2","t":13.42,"v":80},{"p":"e","s":"9.2","t":13.51,"v":-39},{"p":"e","s":"9.2","t":13.59,"v":-135},{"p":"e","s":"9.2","t":13.66,"v":-87},{"p":"e","s":"9.2","t":13.75,"v":56},{"p":"e","s":"9.2","t":13.81,"v":104},{"p":"e","s":"9.2","t":13.9,"v":151},{"p":"e","s":"9.2","t":14,"v":139}
  ]},
  "bounds": "flush",
  "columns": 2,
  "spacing": {"row": 109, "column": 92},
  "resolve": {"scale": {"color": "shared", "strokeDash": "shared"}},
  "concat": [
    {
      "width": 432, "height": 337,
      "layer": [
        {
          "transform": [{"filter": "datum.p === 'a'"}],
          "mark": {"type": "line", "strokeCap": "butt"},
          "encoding": {
            "x": {"field": "t", "type": "quantitative", "scale": {"domain": [10, 14], "nice": false, "zero": false}, "axis": {"values": [10, 10.5, 11, 11.5, 12, 12.5, 13, 13.5, 14], "tickSize": {"expr": "datum.value % 1 === 0 ? 25 : 12"}, "labelExpr": "datum.value % 1 === 0 ? toString(datum.value) : ''", "labelFlush": false, "labelPadding": 13, "title": null}},
            "y": {"field": "v", "type": "quantitative", "scale": {"domain": [-600, 600], "nice": false, "zero": false}, "axis": {"values": [-600, -500, -400, -300, -200, -100, 0, 100, 200, 300, 400, 500, 600], "tickSize": {"expr": "datum.value % 300 === 0 ? 27 : 14"}, "labelExpr": "datum.value % 300 === 0 ? (datum.value < 0 ? '-' + toString(-datum.value) : toString(datum.value)) : ''", "labelPadding": 14, "title": null}},
            "color": {"field": "s", "type": "nominal", "scale": {"domain": ["WB", "BW", "4.4", "6.8", "9.2"], "range": ["#111111", "transparent", "#7a7a7a", "#111111", "#666666"]}, "legend": null},
            "strokeDash": {"field": "s", "type": "nominal", "scale": {"domain": ["WB", "BW", "4.4", "6.8", "9.2"], "range": [[26, 22], [1, 0], [1, 0], [1, 0], [6, 4]]}, "legend": null},
            "strokeWidth": {"condition": {"test": "datum.s === 'WB' || datum.s === '6.8'", "value": 2.6}, "value": 1.2}
          }
        },
        {"data": {"values": [{}]}, "mark": {"type": "text", "text": "(a)", "font": "Liberation Serif", "fontStyle": "italic", "fontSize": 28, "align": "right", "baseline": "middle", "dx": -4, "color": "#222222"}, "encoding": {"x": {"datum": 14}, "y": {"datum": 440}}}
      ]
    },
    {
      "width": 433, "height": 337,
      "layer": [
        {
          "transform": [{"filter": "datum.p === 'b'"}],
          "mark": {"type": "line", "strokeCap": "butt"},
          "encoding": {
            "x": {"field": "t", "type": "quantitative", "scale": {"domain": [10, 14], "nice": false, "zero": false}, "axis": {"values": [10, 10.5, 11, 11.5, 12, 12.5, 13, 13.5, 14], "tickSize": {"expr": "datum.value % 1 === 0 ? 25 : 12"}, "labelExpr": "datum.value % 1 === 0 ? toString(datum.value) : ''", "labelFlush": false, "labelPadding": 13, "title": null}},
            "y": {"field": "v", "type": "quantitative", "scale": {"domain": [-600, 600], "nice": false, "zero": false}, "axis": {"values": [-600, -500, -400, -300, -200, -100, 0, 100, 200, 300, 400, 500, 600], "tickSize": {"expr": "datum.value % 300 === 0 ? 27 : 14"}, "labelExpr": "datum.value % 300 === 0 ? (datum.value < 0 ? '-' + toString(-datum.value) : toString(datum.value)) : ''", "labelPadding": 14, "title": null}},
            "color": {"field": "s", "type": "nominal", "scale": {"domain": ["WB", "BW", "4.4", "6.8", "9.2"], "range": ["#111111", "transparent", "#7a7a7a", "#111111", "#666666"]}, "legend": null},
            "strokeDash": {"field": "s", "type": "nominal", "scale": {"domain": ["WB", "BW", "4.4", "6.8", "9.2"], "range": [[26, 22], [1, 0], [1, 0], [1, 0], [6, 4]]}, "legend": null},
            "strokeWidth": {"condition": {"test": "datum.s === 'WB' || datum.s === '6.8'", "value": 2.6}, "value": 1.2}
          }
        },
        {"data": {"values": [{}]}, "mark": {"type": "text", "text": "(b)", "font": "Liberation Serif", "fontStyle": "italic", "fontSize": 28, "align": "right", "baseline": "middle", "dx": -10, "color": "#222222"}, "encoding": {"x": {"datum": 14}, "y": {"datum": 493}}}
      ]
    },
    {
      "width": 432, "height": 337,
      "layer": [
        {
          "transform": [{"filter": "datum.p === 'c'"}],
          "mark": {"type": "line", "strokeCap": "butt"},
          "encoding": {
            "x": {"field": "t", "type": "quantitative", "scale": {"domain": [10, 14], "nice": false, "zero": false}, "axis": {"values": [10, 10.5, 11, 11.5, 12, 12.5, 13, 13.5, 14], "tickSize": {"expr": "datum.value % 1 === 0 ? 25 : 12"}, "labelExpr": "datum.value % 1 === 0 ? toString(datum.value) : ''", "labelFlush": false, "labelPadding": 13, "title": null}},
            "y": {"field": "v", "type": "quantitative", "scale": {"domain": [-600, 600], "nice": false, "zero": false}, "axis": {"values": [-600, -500, -400, -300, -200, -100, 0, 100, 200, 300, 400, 500, 600], "tickSize": {"expr": "datum.value % 300 === 0 ? 27 : 14"}, "labelExpr": "datum.value % 300 === 0 ? (datum.value < 0 ? '-' + toString(-datum.value) : toString(datum.value)) : ''", "labelPadding": 14, "title": "η'", "titleFont": "Liberation Serif", "titleFontSize": 32, "titleFontWeight": "normal", "titleColor": "#111111", "titlePadding": 18}},
            "color": {"field": "s", "type": "nominal", "scale": {"domain": ["WB", "BW", "4.4", "6.8", "9.2"], "range": ["#111111", "transparent", "#7a7a7a", "#111111", "#666666"]}, "legend": null},
            "strokeDash": {"field": "s", "type": "nominal", "scale": {"domain": ["WB", "BW", "4.4", "6.8", "9.2"], "range": [[26, 22], [1, 0], [1, 0], [1, 0], [6, 4]]}, "legend": null},
            "strokeWidth": {"condition": {"test": "datum.s === 'WB' || datum.s === '6.8'", "value": 2.6}, "value": 1.2}
          }
        },
        {"data": {"values": [{}]}, "mark": {"type": "text", "text": "(c)", "font": "Liberation Serif", "fontStyle": "italic", "fontSize": 28, "align": "right", "baseline": "middle", "dx": -17, "color": "#222222"}, "encoding": {"x": {"datum": 14}, "y": {"datum": 479}}}
      ]
    },
    {
      "width": 433, "height": 337,
      "layer": [
        {
          "transform": [{"filter": "datum.p === 'd'"}],
          "mark": {"type": "line", "strokeCap": "butt"},
          "encoding": {
            "x": {"field": "t", "type": "quantitative", "scale": {"domain": [10, 14], "nice": false, "zero": false}, "axis": {"values": [10, 10.5, 11, 11.5, 12, 12.5, 13, 13.5, 14], "tickSize": {"expr": "datum.value % 1 === 0 ? 25 : 12"}, "labelExpr": "datum.value % 1 === 0 ? toString(datum.value) : ''", "labelFlush": false, "labelPadding": 13, "title": null}},
            "y": {"field": "v", "type": "quantitative", "scale": {"domain": [-600, 600], "nice": false, "zero": false}, "axis": {"values": [-600, -500, -400, -300, -200, -100, 0, 100, 200, 300, 400, 500, 600], "tickSize": {"expr": "datum.value % 300 === 0 ? 27 : 14"}, "labelExpr": "datum.value % 300 === 0 ? (datum.value < 0 ? '-' + toString(-datum.value) : toString(datum.value)) : ''", "labelPadding": 14, "title": null}},
            "color": {"field": "s", "type": "nominal", "scale": {"domain": ["WB", "BW", "4.4", "6.8", "9.2"], "range": ["#111111", "transparent", "#7a7a7a", "#111111", "#666666"]}, "legend": null},
            "strokeDash": {"field": "s", "type": "nominal", "scale": {"domain": ["WB", "BW", "4.4", "6.8", "9.2"], "range": [[26, 22], [1, 0], [1, 0], [1, 0], [6, 4]]}, "legend": null},
            "strokeWidth": {"condition": {"test": "datum.s === 'WB' || datum.s === '6.8'", "value": 2.6}, "value": 1.2}
          }
        },
        {"data": {"values": [{}]}, "mark": {"type": "text", "text": "(d)", "font": "Liberation Serif", "fontStyle": "italic", "fontSize": 28, "align": "right", "baseline": "middle", "dx": -20, "color": "#222222"}, "encoding": {"x": {"datum": 14}, "y": {"datum": 468}}}
      ]
    },
    {
      "width": 432, "height": 337,
      "layer": [
        {
          "transform": [{"filter": "datum.p === 'e'"}],
          "mark": {"type": "line", "strokeCap": "butt"},
          "encoding": {
            "x": {"field": "t", "type": "quantitative", "scale": {"domain": [10, 14], "nice": false, "zero": false}, "axis": {"values": [10, 10.5, 11, 11.5, 12, 12.5, 13, 13.5, 14], "tickSize": {"expr": "datum.value % 1 === 0 ? 25 : 12"}, "labelExpr": "datum.value % 1 === 0 ? toString(datum.value) : ''", "labelFlush": false, "labelPadding": 13, "title": "t", "titleFont": "Liberation Serif", "titleFontStyle": "italic", "titleFontWeight": "normal", "titleFontSize": 32, "titleColor": "#111111", "titleX": 432, "titleAlign": "center", "titlePadding": 18}},
            "y": {"field": "v", "type": "quantitative", "scale": {"domain": [-600, 600], "nice": false, "zero": false}, "axis": {"values": [-600, -500, -400, -300, -200, -100, 0, 100, 200, 300, 400, 500, 600], "tickSize": {"expr": "datum.value % 300 === 0 ? 27 : 14"}, "labelExpr": "datum.value % 300 === 0 ? (datum.value < 0 ? '-' + toString(-datum.value) : toString(datum.value)) : ''", "labelPadding": 14, "title": null}},
            "color": {"field": "s", "type": "nominal", "scale": {"domain": ["WB", "BW", "4.4", "6.8", "9.2"], "range": ["#111111", "transparent", "#7a7a7a", "#111111", "#666666"]}, "legend": null},
            "strokeDash": {"field": "s", "type": "nominal", "scale": {"domain": ["WB", "BW", "4.4", "6.8", "9.2"], "range": [[26, 22], [1, 0], [1, 0], [1, 0], [6, 4]]}, "legend": null},
            "strokeWidth": {"condition": {"test": "datum.s === 'WB' || datum.s === '6.8'", "value": 2.6}, "value": 1.2}
          }
        },
        {"data": {"values": [{}]}, "mark": {"type": "text", "text": "(e)", "font": "Liberation Serif", "fontStyle": "italic", "fontSize": 28, "align": "right", "baseline": "middle", "dx": -15, "color": "#222222"}, "encoding": {"x": {"datum": 14}, "y": {"datum": 471}}}
      ]
    },
    {
      "width": 386, "height": 238,
      "view": {"stroke": "#666666", "strokeWidth": 1.5},
      "data": {"values": [
        {"s": "WB", "label": "Without Baffle"},
        {"s": "BW", "label": "Baffle With"},
        {"s": "4.4", "label": "4.4% Porosity"},
        {"s": "6.8", "label": "6.8% Porosity"},
        {"s": "9.2", "label": "9.2% Porosity"}
      ]},
      "layer": [
        {
          "transform": [{"filter": "datum.s !== 'BW'"}],
          "mark": {"type": "rule", "strokeCap": "butt"},
          "encoding": {
            "y": {"field": "s", "type": "nominal", "scale": {"type": "point", "domain": ["WB", "BW", "4.4", "6.8", "9.2"], "padding": 0.6}, "axis": null},
            "x": {"datum": 0.044, "type": "quantitative", "scale": {"domain": [0, 1], "nice": false, "zero": false}, "axis": null},
            "x2": {"datum": 0.368},
            "color": {"field": "s", "type": "nominal", "legend": null},
            "strokeDash": {"field": "s", "type": "nominal", "legend": null},
            "strokeWidth": {"condition": {"test": "datum.s === 'WB' || datum.s === '6.8'", "value": 2.6}, "value": 1.3}
          }
        },
        {
          "transform": [{"filter": "datum.s !== 'BW'"}],
          "mark": {"type": "text", "align": "left", "baseline": "middle", "font": "Liberation Serif", "fontSize": 33, "color": "#222222"},
          "encoding": {
            "y": {"field": "s", "type": "nominal", "axis": null},
            "x": {"datum": 0.394, "type": "quantitative", "axis": null},
            "text": {"field": "label"}
          }
        },
        {
          "transform": [{"filter": "datum.s === 'BW'"}],
          "mark": {"type": "text", "align": "center", "baseline": "middle", "font": "Liberation Serif", "fontSize": 33, "color": "#222222"},
          "encoding": {
            "y": {"field": "s", "type": "nominal", "axis": null},
            "x": {"datum": 0.5, "type": "quantitative", "axis": null},
            "text": {"field": "label"}
          }
        }
      ]
    }
  ],
  "config": {
    "view": {"stroke": "#555555", "strokeWidth": 1.5},
    "axis": {"domainColor": "#555555", "domainWidth": 1.5, "tickColor": "#555555", "tickWidth": 1.5, "labelFont": "Liberation Sans", "labelFontSize": 19, "labelColor": "#444444", "grid": false}
  }
}
